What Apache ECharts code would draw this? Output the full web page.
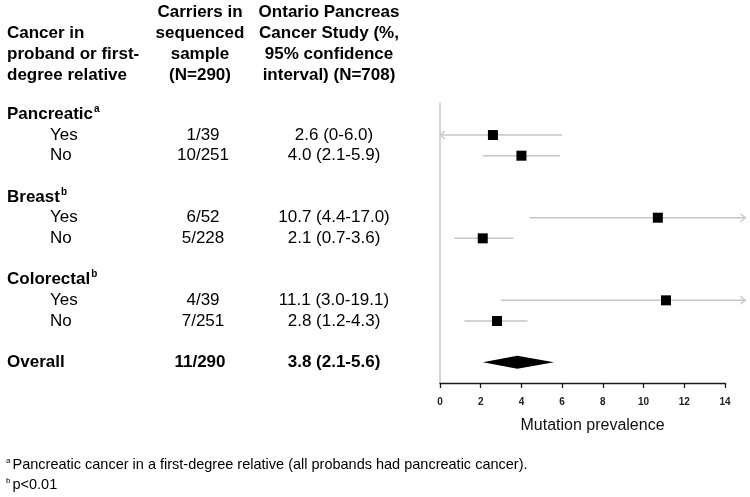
<!DOCTYPE html>
<html>
<head>
<meta charset="utf-8">
<script src="https://cdn.jsdelivr.net/npm/echarts@6/dist/echarts.min.js"></script>
<style>html,body{margin:0;padding:0;background:#fff}#c{width:750px;height:497px}</style>
</head>
<body>
<div id="c"></div>
<script>
// ---- data ----
const groups = ['Pancreatic', 'Breast', 'Colorectal'];
const groupSup = ['a', 'b', 'b'];
const subgroups = ['Yes', 'No'];
const carriers = ['1/39', '10/251', '6/52', '5/228', '4/39', '7/251'];
const estimates = [2.6, 4.0, 10.7, 2.1, 11.1, 2.8];
const lowerCI = [0, 2.1, 4.4, 0.7, 3.0, 1.2];
const upperCI = [6.0, 5.9, 17.0, 3.6, 19.1, 4.3];
const ciLabels = ['2.6 (0-6.0)', '4.0 (2.1-5.9)', '10.7 (4.4-17.0)', '2.1 (0.7-3.6)', '11.1 (3.0-19.1)', '2.8 (1.2-4.3)'];
const overallCarriers = '11/290';
const overallEstimate = 3.8, overallLower = 2.1, overallUpper = 5.6;
const overallLabel = '3.8 (2.1-5.6)';
const headerCol1 = ['Cancer in', 'proband or first-', 'degree relative'];
const headerCol2 = ['Carriers in', 'sequenced', 'sample', '(N=290)'];
const headerCol3 = ['Ontario Pancreas', 'Cancer Study (%,', '95% confidence', 'interval) (N=708)'];
const xTicks = [0, 2, 4, 6, 8, 10, 12, 14];
const footnoteMarks = ['a', 'b'];
const footnoteTexts = ['Pancreatic cancer in a first-degree relative (all probands had pancreatic cancer).', 'p<0.01'];

const FONT = "'Liberation Sans', Arial, Helvetica, sans-serif";
const XMAX = 14;
const ARROW_CLIP = 15; // CI lines beyond this are truncated with an arrow

// rows: group header, Yes, No, blank ...
const rowData = [];
const groupRows = [];
for (let g = 0; g < groups.length; g++) {
  groupRows.push(g * 4);
  for (let s = 0; s < 2; s++) {
    const i = g * 2 + s;
    rowData.push([g * 4 + 1 + s, estimates[i], lowerCI[i], upperCI[i], 0]);
  }
}
const overallRow = groups.length * 4;
rowData.push([overallRow, overallEstimate, overallLower, overallUpper, 1]);

const chart = echarts.init(document.getElementById('c'));
const CI_COLOR = '#c6c6c6';

chart.setOption({
  animation: false,
  grid: { left: 440, right: 25, top: 103, bottom: 114 },
  xAxis: {
    type: 'value', min: 0, max: XMAX, interval: 2, position: 'bottom',
    splitLine: { show: false },
    axisLine: { show: true, onZero: false, lineStyle: { color: '#1a1a1a', width: 1.3 } },
    axisTick: { show: true, length: 5, lineStyle: { color: '#1a1a1a', width: 1.3 } },
    axisLabel: { color: '#222', fontFamily: FONT, fontSize: 10, fontWeight: 'bold', margin: 14,
      formatter: v => xTicks.includes(v) ? String(v) : '' },
    name: 'Mutation prevalence', nameLocation: 'middle', nameGap: 35,
    nameTextStyle: { fontFamily: FONT, fontSize: 16, color: '#111', padding: [0, 0, 0, 20] }
  },
  yAxis: {
    type: 'value', min: -0.55, max: 13, inverse: true,
    splitLine: { show: false },
    axisLine: { show: true, onZero: false, lineStyle: { color: '#c8c8c8', width: 1.5 } },
    axisTick: { show: false }, axisLabel: { show: false }
  },
  series: [{
    type: 'custom',
    clip: false,
    data: rowData,
    renderItem: function (params, api) {
      const row = api.value(0), est = api.value(1), lo = api.value(2), hi = api.value(3), kind = api.value(4);
      const y = api.coord([0, row])[1];
      const xlo = api.coord([Math.max(lo, 0), row])[0];
      const xhi = api.coord([Math.min(hi, ARROW_CLIP), row])[0];
      const xe = api.coord([est, row])[0];
      const children = [];
      if (kind === 1) {
        children.push({ type: 'polygon', shape: { points: [[xlo, y], [xe, y - 6.5], [xhi, y], [xe, y + 6.5]] },
          style: { fill: '#000' } });
        return { type: 'group', children };
      }
      children.push({ type: 'line', shape: { x1: xlo, y1: y, x2: xhi, y2: y },
        style: { stroke: CI_COLOR, lineWidth: 1.5 } });
      if (hi > ARROW_CLIP) {
        children.push({ type: 'polyline', shape: { points: [[xhi - 5, y - 4], [xhi, y], [xhi - 5, y + 4]] },
          style: { stroke: CI_COLOR, lineWidth: 1.3, fill: null } });
      }
      if (lo <= 0) {
        children.push({ type: 'polyline', shape: { points: [[xlo + 5, y - 4], [xlo, y], [xlo + 5, y + 4]] },
          style: { stroke: CI_COLOR, lineWidth: 1.3, fill: null } });
      }
      children.push({ type: 'rect', shape: { x: xe - 5, y: y - 5, width: 10, height: 10 }, style: { fill: '#000' } });
      return { type: 'group', children };
    }
  }]
});

// ---- table text ----
const rowY = r => chart.convertToPixel({ gridIndex: 0 }, [0, r])[1];
const g = [];
function txt(x, y, s, opt) {
  g.push(Object.assign({ type: 'text', x: x, y: y,
    style: Object.assign({ text: s, fontFamily: FONT, fontSize: 17, fill: '#000', align: 'left', verticalAlign: 'middle' }, opt || {}) }));
}
const headerY = [12, 33, 54, 75];
headerCol1.forEach((s, i) => txt(7, headerY[i + 1], s, { fontWeight: 'bold' }));
headerCol2.forEach((s, i) => txt(200, headerY[i], s, { fontWeight: 'bold', align: 'center' }));
headerCol3.forEach((s, i) => txt(329, headerY[i], s, { fontWeight: 'bold', align: 'center' }));

groups.forEach((name, gi) => {
  const y = rowY(groupRows[gi]);
  g.push({ type: 'text', x: 7, y: y, style: {
    text: '{b|' + name + '}{s|' + groupSup[gi] + '}', fontFamily: FONT, verticalAlign: 'middle', align: 'left',
    rich: { b: { fontFamily: FONT, fontSize: 17, fontWeight: 'bold', fill: '#000', lineHeight: 20 },
            s: { fontFamily: FONT, fontSize: 10, fontWeight: 'bold', fill: '#000', verticalAlign: 'top', lineHeight: 20, padding: [0, 0, 8, 1] } } } });
  for (let s = 0; s < 2; s++) {
    const i = gi * 2 + s;
    const yy = rowY(groupRows[gi] + 1 + s);
    txt(50, yy, subgroups[s]);
    txt(203, yy, carriers[i], { align: 'center' });
    txt(334, yy, ciLabels[i], { align: 'center' });
  }
});
const oy = rowY(overallRow);
txt(7, oy, 'Overall', { fontWeight: 'bold' });
txt(200, oy, overallCarriers, { fontWeight: 'bold', align: 'center' });
txt(334, oy, overallLabel, { fontWeight: 'bold', align: 'center' });

// footnotes
const footY = [465, 485];
footnoteTexts.forEach((t, i) => {
  txt(6, footY[i] - 4, footnoteMarks[i], { fontSize: 8 });
  txt(12.5, footY[i], t, { fontSize: 14.5 });
});
chart.setOption({ graphic: g });
</script>
</body>
</html>
